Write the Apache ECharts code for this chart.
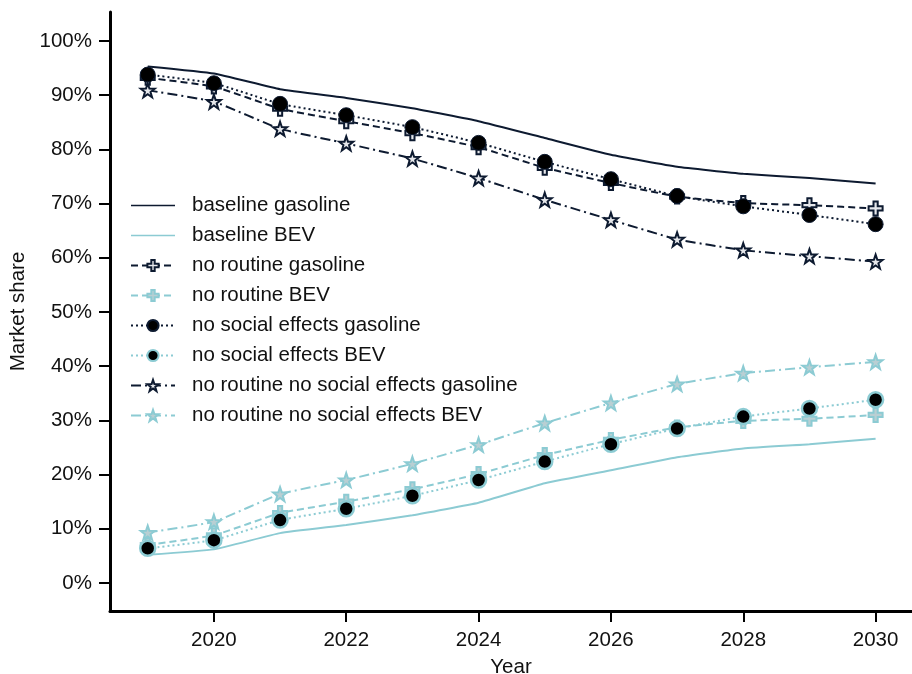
<!DOCTYPE html>
<html>
<head>
<meta charset="utf-8">
<script src="https://cdn.jsdelivr.net/npm/echarts@6/dist/echarts.min.js"></script>
<style>html,body{margin:0;padding:0;background:#fff}#c{width:912px;height:674px}</style>
</head>
<body>
<div id="c"></div>
<script>
var years = [2019,2020,2021,2022,2023,2024,2025,2026,2027,2028,2029,2030];
var xTicks = [2020,2022,2024,2026,2028,2030];
var yTicks = [0,10,20,30,40,50,60,70,80,90,100];

var baselineGasoline = [95.3,94.0,91.1,89.5,87.6,85.2,82.1,79.0,76.8,75.5,74.7,73.7];
var baselineBEV = [5.2,6.2,9.2,10.7,12.5,14.8,18.4,20.8,23.2,24.8,25.6,26.6];
var noRoutineGasoline = [93.2,91.6,87.5,85.2,83.0,80.4,76.6,73.8,71.3,70.1,69.7,69.1];
var noRoutineBEV = [7.0,8.8,12.9,15.0,17.3,20.1,23.6,26.4,28.7,29.9,30.3,31.0];
var noSocialGasoline = [93.8,92.2,88.4,86.3,84.1,81.2,77.7,74.5,71.4,69.5,67.9,66.2];
var noSocialBEV = [6.4,7.9,11.6,13.7,16.1,19.0,22.4,25.6,28.5,30.7,32.2,33.8];
var noRoutineNoSocialGasoline = [90.9,88.8,83.8,81.1,78.3,74.7,70.7,67.0,63.4,61.4,60.3,59.3];
var noRoutineNoSocialBEV = [9.3,11.3,16.4,19.0,22.0,25.5,29.5,33.2,36.7,38.7,39.8,40.8];

var DARK = '#0d1a30';
var TEAL = '#8ccbd3';
var CROSS = 'path://M7,0H13V7H20V13H13V20H7V13H0V7H7Z';
var STAR = 'path://M10,0L12.35,6.76L19.51,6.91L13.8,11.24L15.88,18.09L10,14L4.12,18.09L6.2,11.24L0.49,6.91L7.65,6.76Z';
var LINEICON = 'path://M0,6.2H44V7.8H0Z';

function pairs(vals){ return years.map(function(y,i){ return [y, vals[i]]; }); }

function mk(name, vals, color, dash, symbol, size, fill, border, bw){
  return {
    name: name, type: 'line', data: pairs(vals),
    smooth: 0.12,
    symbol: symbol || 'none', symbolSize: size || 0,
    showSymbol: !!symbol,
    lineStyle: { color: color, width: 2, type: dash },
    itemStyle: { color: fill || color, borderColor: border || color, borderWidth: bw || 0 },
    emphasis: { disabled: true }
  };
}

var series = [
  mk('baseline gasoline', baselineGasoline, DARK, 'solid'),
  mk('baseline BEV', baselineBEV, TEAL, 'solid'),
  mk('no routine gasoline', noRoutineGasoline, DARK, [7,4], CROSS, 14, '#e6e8ec', DARK, 2),
  mk('no routine BEV', noRoutineBEV, TEAL, [7,4], CROSS, 14, '#b9cfd3', TEAL, 2),
  mk('no social effects gasoline', noSocialGasoline, DARK, [2,3], 'circle', 15, '#000000', DARK, 1),
  mk('no social effects BEV', noSocialBEV, TEAL, [2,3], 'circle', 15, '#000000', TEAL, 2.5),
  mk('no routine no social effects gasoline', noRoutineNoSocialGasoline, DARK, [10,4,2,4], STAR, 14, '#e6e8ec', DARK, 2),
  mk('no routine no social effects BEV', noRoutineNoSocialBEV, TEAL, [10,4,2,4], STAR, 14, '#b9cfd3', TEAL, 2)
];

var legendData = series.map(function(s, i){
  var d = { name: s.name };
  if (i < 2) { d.icon = LINEICON; d.itemStyle = { color: s.lineStyle.color, borderWidth: 0 }; }
  return d;
});

var FONT = 'Liberation Sans';
var TXT = '#111';
var chart = echarts.init(document.getElementById('c'), null, {renderer: 'canvas'});
chart.setOption({
  animation: false,
  backgroundColor: '#fff',
  textStyle: { fontFamily: FONT },
  grid: { left: 110, right: 0, top: 12, bottom: 63, containLabel: false, outerBoundsMode: 'none' },
  legend: {
    orient: 'vertical', left: 125, top: 190,
    itemWidth: 44, itemHeight: 14, itemGap: 9,
    textStyle: { fontFamily: FONT, fontSize: 20.5, color: TXT, padding: [0,0,0,12] },
    data: legendData
  },
  xAxis: {
    type: 'value', min: 2018.43, max: 2030.55,
    name: 'Year', nameLocation: 'middle', nameGap: 46,
    nameTextStyle: { fontFamily: FONT, fontSize: 20.5, color: TXT },
    axisLine: { onZero: false, lineStyle: { color: '#000', width: 3 } },
    axisTick: { show: true, length: 11, lineStyle: { color: '#000', width: 2 }, customValues: xTicks },
    axisLabel: { fontFamily: FONT, fontSize: 20.5, color: TXT, margin: 19, customValues: xTicks,
      formatter: function(v){ return String(v); } },
    splitLine: { show: false }
  },
  yAxis: {
    type: 'value', min: -5.17, max: 105.35,
    name: 'Market share', nameLocation: 'middle', nameGap: 80, nameRotate: 90,
    nameTextStyle: { fontFamily: FONT, fontSize: 20.5, color: TXT },
    axisLine: { show: true, onZero: false, lineStyle: { color: '#000', width: 3 } },
    axisTick: { show: true, length: 11, lineStyle: { color: '#000', width: 2 }, customValues: yTicks },
    axisLabel: { fontFamily: FONT, fontSize: 20.5, color: TXT, margin: 18, customValues: yTicks,
      formatter: function(v){ return v + '%'; } },
    splitLine: { show: false }
  },
  series: series
});
</script>
</body>
</html>
